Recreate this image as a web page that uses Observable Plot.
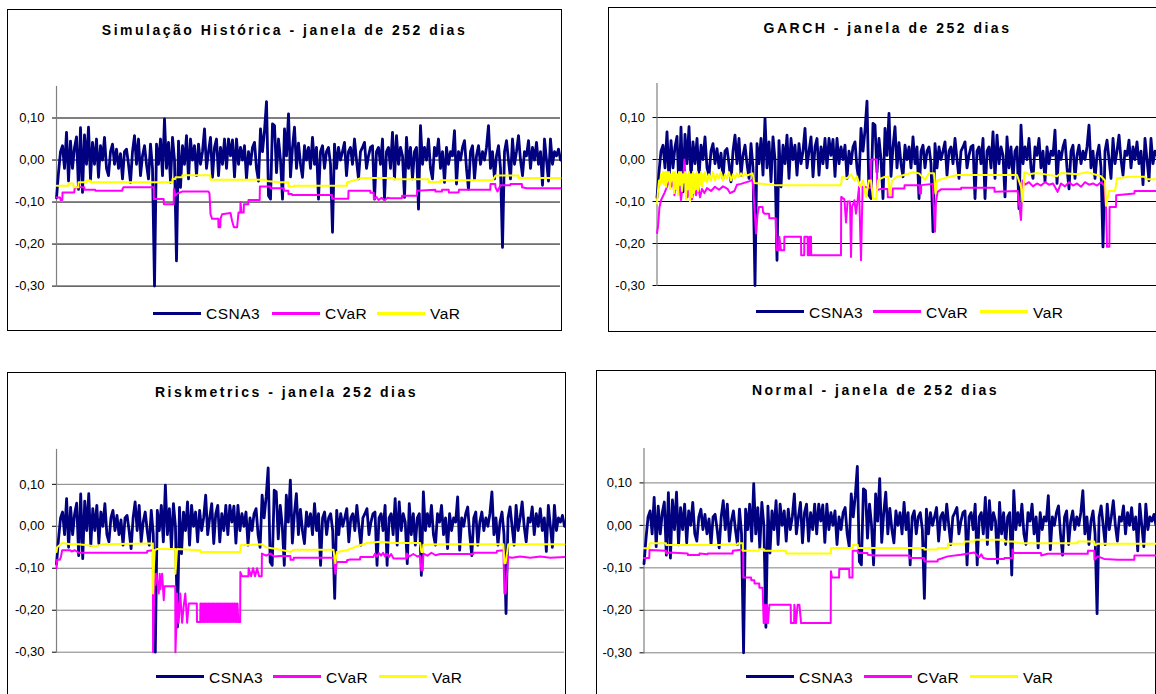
<!DOCTYPE html>
<html>
<head>
<meta charset="utf-8">
<script src="https://cdn.jsdelivr.net/npm/d3@7"></script>
<script src="https://cdn.jsdelivr.net/npm/@observablehq/plot@0.6"></script>
<style>
  html, body { margin: 0; padding: 0; background: #fff; }
  body { width: 1156px; height: 694px; overflow: hidden; position: relative; font-family: "Liberation Sans", Arial, sans-serif; }
  .box { position: absolute; border: 1.5px solid #000; box-sizing: border-box; }
  .title { position: absolute; font-weight: bold; font-size: 14px; line-height: 14px; letter-spacing: 2.5px; text-align: center; color: #000; white-space: nowrap; }
  .chart { position: absolute; }
  .lg-line { position: absolute; height: 2.5px; width: 48px; }
  .lg-text { position: absolute; font-size: 15.5px; line-height: 15.5px; letter-spacing: 0.5px; color: #000; white-space: nowrap; }
</style>
</head>
<body>
<script>
// ---------------- DATA ----------------
// daily returns of CSNA3 (sampled, read from the picture), same series in every panel
const csna3 = [
 -0.09, -0.03, 0.02, 0.034, -0.02, 0.066, -0.05, 0.045, -0.02, 0.03,
 0.055, -0.07, 0.077, -0.077, 0.06, -0.01, 0.078, -0.046, 0.042, -0.01,
 0.05, -0.041, 0.034, 0.0, 0.054, -0.02, -0.037, 0.02, 0.038, -0.01,
 0.026, -0.02, 0.015, -0.045, 0.02, 0.026, -0.01, -0.053, 0.02, 0.058,
 -0.01, 0.05, -0.037, 0.01, 0.034, -0.01, -0.045, 0.038, -0.02, -0.30,
 0.038, -0.01, 0.05, -0.037, 0.098, -0.02, 0.042, -0.053, 0.054, 0.0,
 -0.24, 0.045, -0.065, 0.034, -0.01, 0.058, -0.045, 0.05, 0.0, 0.034,
 -0.037, 0.038, -0.01, 0.02, 0.074, -0.02, 0.02, 0.054, -0.041, 0.03,
 0.05, -0.037, 0.03, -0.01, 0.05, -0.02, 0.05, 0.01, 0.048, -0.04,
 0.05, -0.01, 0.03, 0.0, 0.034, -0.045, 0.02, -0.01, 0.03, 0.042,
 -0.02, -0.05, 0.074, 0.02, 0.07, 0.139, -0.085, -0.093, 0.086, 0.082,
 -0.03, 0.05, 0.0, -0.093, 0.074, 0.01, 0.11, -0.04, 0.03, 0.078,
 -0.02, 0.04, -0.01, -0.041, 0.034, 0.0, 0.03, -0.02, 0.054, -0.01,
 0.03, -0.093, 0.02, 0.034, -0.02, 0.02, 0.03, -0.01, -0.172, 0.038,
 -0.02, 0.03, 0.0, 0.02, 0.042, -0.037, 0.02, 0.03, -0.01, 0.05,
 0.0, -0.045, 0.02, 0.03, 0.042, -0.02, 0.01, 0.03, 0.034, -0.093,
 0.02, 0.03, -0.01, 0.05, -0.093, 0.02, 0.03, -0.02, 0.066, -0.045,
 0.058, -0.01, 0.03, 0.01, -0.089, 0.054, -0.02, 0.03, -0.045, 0.02,
 0.03, -0.117, 0.082, -0.01, 0.03, 0.0, 0.05, -0.02, -0.045, 0.03,
 0.01, 0.05, -0.02, 0.02, -0.053, 0.03, -0.01, 0.02, 0.01, 0.07,
 -0.057, 0.02, 0.0, 0.03, 0.046, -0.02, -0.07, 0.02, 0.034, -0.045,
 0.01, 0.034, -0.01, 0.02, 0.0, 0.03, 0.082, -0.02, 0.02, -0.045,
 0.01, 0.034, -0.02, -0.208, 0.02, 0.046, 0.0, -0.045, 0.05, -0.01,
 0.02, 0.058, 0.0, -0.037, 0.02, 0.01, 0.046, -0.02, 0.03, 0.0,
 0.042, -0.01, 0.02, -0.06, 0.05, 0.0, -0.05, 0.05, -0.01, 0.02,
 0.01, 0.026, 0.0
];

// [observation, value] pairs
const hsCVaR = [[0,-0.089],[1.8,-0.089],[2,-0.095],[2.9,-0.095],[3,-0.077],[8.9,-0.077],[9,-0.069],[10,-0.065],[13.9,-0.065],[14,-0.071],[19.4,-0.071],[19.5,-0.073],[32.9,-0.073],[33,-0.069],[33.5,-0.065],[48.6,-0.065],[48.7,-0.093],[53.6,-0.093],[53.7,-0.105],[58.6,-0.105],[58.7,-0.069],[59.5,-0.085],[60.3,-0.08],[62.8,-0.075],[76,-0.075],[76.5,-0.08],[77,-0.129],[77.8,-0.14],[80.9,-0.14],[81,-0.16],[81.9,-0.16],[82,-0.14],[82.8,-0.129],[87,-0.126],[87.8,-0.145],[88.7,-0.16],[90.3,-0.16],[91,-0.125],[91.9,-0.125],[92,-0.10],[92.5,-0.125],[93.6,-0.125],[93.7,-0.105],[95.9,-0.105],[96,-0.095],[101.6,-0.095],[101.7,-0.063],[106.9,-0.063],[107,-0.067],[113.6,-0.067],[113.7,-0.073],[115.9,-0.073],[116,-0.081],[117.7,-0.081],[117.8,-0.083],[137.7,-0.083],[137.8,-0.092],[145.9,-0.092],[146,-0.073],[156.9,-0.073],[157,-0.078],[158.6,-0.078],[158.7,-0.093],[160,-0.088],[161,-0.095],[162.5,-0.09],[164,-0.096],[165.5,-0.09],[167,-0.091],[172.7,-0.091],[172.8,-0.085],[180.2,-0.085],[180.3,-0.073],[189.4,-0.071],[189.5,-0.075],[192.7,-0.075],[192.8,-0.071],[196.1,-0.071],[196.2,-0.077],[201.1,-0.077],[201.2,-0.071],[216.9,-0.071],[217,-0.057],[219.4,-0.057],[219.5,-0.065],[220.5,-0.075],[222,-0.06],[226.9,-0.06],[227,-0.057],[232.7,-0.057],[232.8,-0.065],[235,-0.067],[252,-0.067]];
const hsVaR = [[0,-0.061],[5.9,-0.061],[6,-0.056],[8.4,-0.056],[8.5,-0.065],[10.9,-0.065],[11,-0.053],[14.9,-0.053],[15,-0.049],[16.9,-0.049],[17,-0.053],[57.9,-0.053],[58,-0.045],[59.4,-0.045],[59.5,-0.041],[62.9,-0.041],[63,-0.036],[76.9,-0.036],[77,-0.047],[104.9,-0.047],[105,-0.05],[112,-0.053],[115.9,-0.053],[116,-0.063],[118.6,-0.063],[118.7,-0.061],[145.2,-0.061],[145.3,-0.053],[150,-0.047],[152,-0.043],[168.6,-0.043],[168.7,-0.046],[186,-0.046],[186.1,-0.052],[191.9,-0.052],[192,-0.048],[218,-0.048],[219.5,-0.037],[231,-0.037],[231.1,-0.043],[252,-0.043]];

const garchCVaR = [[0,-0.175],[0.5,-0.16],[1.2,-0.115],[2,-0.097],[3.7,-0.08],[5.3,-0.061],[6,-0.053],[7,-0.065],[8,-0.049],[8.7,-0.085],[9.5,-0.05],[10.3,-0.073],[11,-0.05],[12,-0.097],[13,-0.053],[13.7,0.0],[14.5,-0.065],[15.3,-0.09],[16.5,-0.06],[17.5,-0.095],[18.5,-0.07],[19.5,-0.085],[20.5,-0.062],[21.5,-0.09],[22.5,-0.07],[23.7,-0.08],[25,-0.068],[27,-0.075],[29,-0.065],[31,-0.072],[33,-0.064],[35.3,-0.07],[36.5,-0.08],[38.7,-0.075],[40,-0.06],[42,-0.058],[44,-0.055],[46,-0.052],[47.8,-0.048],[48.7,-0.113],[49.5,-0.176],[50.3,-0.13],[51,-0.113],[52.8,-0.113],[53,-0.125],[53.7,-0.129],[56,-0.129],[56.2,-0.14],[59.4,-0.14],[59.5,-0.176],[60,-0.216],[61,-0.216],[61.2,-0.184],[62,-0.216],[63.6,-0.216],[63.7,-0.184],[72,-0.184],[72.1,-0.228],[73.6,-0.228],[73.7,-0.184],[75.3,-0.184],[75.4,-0.228],[76.2,-0.228],[76.3,-0.184],[77,-0.184],[77.1,-0.228],[92,-0.228],[92.1,-0.089],[93.7,-0.095],[94.5,-0.15],[95.3,-0.1],[96.5,-0.1],[97,-0.232],[97.5,-0.113],[98.7,-0.097],[99.5,-0.129],[100.3,-0.097],[101,-0.065],[102,-0.24],[102.8,-0.065],[107,-0.068],[107.1,0.0],[110,0.0],[110.1,-0.073],[112,-0.07],[115.3,-0.07],[115.4,-0.09],[117.8,-0.09],[117.9,-0.069],[123.7,-0.069],[123.8,-0.061],[131.2,-0.061],[131.3,-0.081],[132,-0.081],[132.1,-0.061],[137.8,-0.058],[139,-0.172],[139.5,-0.1],[140.3,-0.077],[142,-0.071],[152,-0.071],[152.1,-0.067],[168.7,-0.067],[168.8,-0.077],[180.3,-0.075],[182,-0.144],[182.8,-0.05],[184,-0.06],[186,-0.054],[188,-0.064],[190,-0.057],[192,-0.062],[194,-0.054],[196,-0.06],[198,-0.057],[200.3,-0.077],[202,-0.057],[204,-0.064],[206,-0.054],[208,-0.062],[210,-0.057],[212,-0.065],[214,-0.054],[216,-0.06],[218,-0.057],[220,-0.062],[222,-0.054],[223.7,-0.062],[224.5,-0.113],[225,-0.208],[226.2,-0.208],[226.3,-0.113],[229.5,-0.113],[229.6,-0.085],[238.7,-0.081],[238.8,-0.075],[252,-0.075]];
const garchVaR = [[0,-0.105],[0.5,-0.075],[1,-0.05],[1.5,-0.06],[2,-0.035],[2.5,-0.055],[3,-0.03],[3.5,-0.06],[4,-0.03],[4.5,-0.065],[5,-0.03],[5.5,-0.05],[6,-0.03],[6.5,-0.07],[7,-0.035],[7.5,-0.05],[8,-0.03],[8.5,-0.08],[9,-0.03],[9.5,-0.07],[10,-0.035],[10.5,-0.085],[11,-0.03],[11.5,-0.06],[12,-0.03],[12.5,-0.075],[13,-0.035],[13.5,-0.055],[14,-0.03],[14.5,-0.095],[15,-0.035],[15.5,-0.07],[16,-0.03],[16.5,-0.1],[17,-0.035],[17.5,-0.09],[18,-0.03],[18.5,-0.08],[19,-0.035],[19.5,-0.07],[20,-0.03],[20.5,-0.075],[21,-0.035],[21.5,-0.06],[22,-0.03],[22.5,-0.065],[23,-0.035],[23.5,-0.05],[24,-0.03],[25,-0.055],[26,-0.035],[27,-0.05],[28,-0.03],[29,-0.05],[30,-0.035],[31,-0.045],[32,-0.03],[33,-0.05],[34,-0.035],[35,-0.045],[36,-0.03],[37,-0.05],[38,-0.035],[39,-0.045],[40,-0.033],[41,-0.042],[42,-0.033],[43,-0.04],[44,-0.033],[45,-0.038],[47.8,-0.033],[48.7,-0.056],[59,-0.061],[92,-0.061],[92.5,-0.041],[95,-0.045],[97,-0.035],[98.7,-0.05],[100,-0.04],[101.5,-0.065],[103,-0.05],[104.5,-0.09],[106,-0.05],[107,-0.05],[108,-0.093],[109.5,-0.095],[110.5,-0.05],[112,-0.045],[114,-0.041],[115.5,-0.041],[116.5,-0.085],[117.5,-0.05],[120,-0.041],[125,-0.035],[128,-0.03],[131,-0.033],[134,-0.048],[136,-0.033],[138.5,-0.033],[139.2,-0.081],[140,-0.05],[145,-0.043],[150,-0.037],[180,-0.037],[182,-0.065],[182.8,-0.1],[183.7,-0.03],[186,-0.035],[190,-0.032],[195,-0.036],[200,-0.04],[202,-0.032],[210,-0.035],[215,-0.03],[222,-0.04],[224,-0.05],[224.5,-0.11],[226,-0.075],[229,-0.075],[230,-0.045],[236,-0.041],[244,-0.041],[244.5,-0.047],[252,-0.047]];

const rmCVaR = [[0,-0.1],[0.3,-0.08],[1.6,-0.08],[2.2,-0.073],[2.8,-0.057],[6.9,-0.057],[7.5,-0.06],[9,-0.057],[11,-0.063],[44.9,-0.063],[45,-0.059],[47.8,-0.057],[47.9,-0.30],[48.6,-0.113],[49,-0.14],[49.5,-0.113],[50,-0.13],[50.7,-0.16],[51.2,-0.113],[51.5,-0.15],[52.4,-0.113],[53.2,-0.176],[53.6,-0.143],[58.9,-0.143],[59,-0.30],[59.5,-0.23],[59.8,-0.16],[60.6,-0.23],[61.4,-0.16],[62.3,-0.23],[63.1,-0.19],[63.9,-0.16],[64.8,-0.23],[65.6,-0.184],[69.6,-0.184],[69.7,-0.228],[71.3,-0.228],[71.4,-0.184],[71.8,-0.228],[72.2,-0.184],[72.6,-0.228],[73,-0.184],[73.4,-0.228],[73.8,-0.184],[74.2,-0.228],[74.6,-0.184],[75,-0.228],[75.4,-0.184],[75.8,-0.228],[76.2,-0.184],[76.6,-0.228],[77,-0.184],[77.4,-0.228],[77.8,-0.184],[78.2,-0.228],[78.6,-0.184],[79,-0.228],[79.4,-0.184],[79.8,-0.228],[80.2,-0.184],[80.6,-0.228],[81,-0.184],[81.4,-0.228],[81.8,-0.184],[82.2,-0.228],[82.6,-0.184],[83,-0.228],[83.4,-0.184],[83.8,-0.228],[84.2,-0.184],[84.6,-0.228],[85,-0.184],[85.4,-0.228],[85.8,-0.184],[86.2,-0.228],[86.6,-0.184],[87,-0.228],[87.4,-0.184],[87.8,-0.228],[88.2,-0.184],[88.6,-0.228],[89,-0.184],[89.4,-0.228],[89.8,-0.184],[90.2,-0.228],[91.1,-0.228],[91.2,-0.109],[92,-0.119],[95.2,-0.119],[95.3,-0.1],[96.5,-0.119],[97.5,-0.1],[98.5,-0.119],[99.5,-0.1],[100.5,-0.119],[101.8,-0.119],[101.9,-0.065],[104,-0.07],[106,-0.065],[108,-0.072],[111,-0.071],[116,-0.071],[116.1,-0.08],[117.6,-0.08],[117.7,-0.075],[137.4,-0.075],[138.3,-0.113],[139.1,-0.085],[144,-0.085],[144.1,-0.081],[145.7,-0.079],[150.6,-0.079],[150.7,-0.073],[157.2,-0.073],[158,-0.065],[159,-0.072],[160,-0.064],[161,-0.07],[162,-0.063],[163,-0.072],[164,-0.066],[165,-0.073],[166,-0.066],[167.2,-0.077],[173.8,-0.077],[173.9,-0.065],[175,-0.072],[177,-0.066],[179,-0.072],[180.4,-0.07],[181,-0.105],[181.7,-0.105],[182,-0.065],[184,-0.07],[186,-0.063],[188,-0.069],[190.3,-0.066],[206.8,-0.066],[206.9,-0.063],[218.4,-0.063],[218.5,-0.059],[221.7,-0.057],[222.2,-0.16],[222.8,-0.16],[224.1,-0.073],[226,-0.075],[230,-0.072],[235,-0.075],[240,-0.072],[245,-0.075],[252,-0.073]];
const rmVaR = [[0,-0.061],[0.3,-0.05],[2.8,-0.04],[6.9,-0.043],[11,-0.043],[15.3,-0.045],[19.4,-0.048],[22.5,-0.043],[44.9,-0.041],[47.8,-0.041],[47.9,-0.16],[48.6,-0.057],[50,-0.054],[58.9,-0.054],[59,-0.113],[59.8,-0.054],[71.4,-0.057],[71.5,-0.061],[91.2,-0.061],[91.3,-0.045],[102,-0.043],[104,-0.05],[111,-0.056],[116,-0.061],[117.6,-0.056],[137.4,-0.056],[138.3,-0.088],[139.1,-0.061],[144,-0.057],[150.6,-0.045],[154,-0.04],[160.6,-0.037],[167.2,-0.04],[180.4,-0.04],[181,-0.061],[181.7,-0.061],[182,-0.044],[190.3,-0.043],[221.7,-0.043],[222.2,-0.088],[222.8,-0.088],[224.1,-0.043],[252,-0.043]];

const nmCVaR = [[0,-0.077],[2.6,-0.077],[2.7,-0.058],[10.8,-0.06],[10.9,-0.066],[12.5,-0.064],[21.5,-0.066],[21.6,-0.07],[27.2,-0.07],[27.3,-0.066],[31.3,-0.068],[31.4,-0.066],[43.6,-0.066],[43.7,-0.06],[46.9,-0.058],[48.8,-0.058],[48.9,-0.123],[52.7,-0.123],[52.8,-0.129],[54.3,-0.129],[54.4,-0.137],[56.7,-0.137],[56.8,-0.147],[58.4,-0.147],[58.9,-0.23],[59.5,-0.187],[60,-0.23],[60.5,-0.187],[61,-0.23],[61.7,-0.187],[72.2,-0.187],[72.3,-0.23],[73.9,-0.23],[74,-0.187],[74.8,-0.23],[75.6,-0.187],[76.5,-0.187],[77.3,-0.23],[91.9,-0.23],[92,-0.108],[92.5,-0.123],[96,-0.123],[96.1,-0.103],[101,-0.103],[101.1,-0.123],[102.6,-0.123],[102.7,-0.06],[105.2,-0.06],[105.3,-0.065],[110,-0.065],[110.1,-0.069],[113.3,-0.071],[130.6,-0.071],[130.7,-0.077],[137.9,-0.077],[138,-0.085],[144.5,-0.085],[144.6,-0.081],[149.5,-0.073],[156,-0.069],[162.6,-0.064],[165,-0.075],[166,-0.068],[167,-0.077],[169.1,-0.079],[177.3,-0.079],[177.4,-0.077],[181.3,-0.077],[181.4,-0.057],[182,-0.065],[195.4,-0.065],[195.5,-0.071],[198.7,-0.067],[218.4,-0.067],[218.5,-0.06],[221.6,-0.06],[221.7,-0.081],[223.3,-0.073],[226.5,-0.079],[233.1,-0.081],[241.3,-0.081],[241.4,-0.071],[252,-0.071]];
const nmVaR = [[0,-0.054],[2.6,-0.054],[2.7,-0.042],[10.8,-0.042],[10.9,-0.046],[37.9,-0.046],[38,-0.045],[46.1,-0.045],[46.2,-0.042],[48.6,-0.042],[48.7,-0.06],[56.7,-0.06],[56.8,-0.056],[59,-0.056],[59.1,-0.06],[69.8,-0.06],[69.9,-0.066],[92,-0.066],[92.1,-0.053],[102.7,-0.053],[102.8,-0.046],[105.2,-0.046],[105.3,-0.053],[137.9,-0.053],[138,-0.057],[144.5,-0.057],[144.6,-0.053],[149.5,-0.053],[149.6,-0.043],[157.6,-0.043],[157.7,-0.038],[162.6,-0.038],[162.7,-0.034],[177.3,-0.034],[177.4,-0.038],[182.2,-0.038],[182.3,-0.04],[185.5,-0.042],[213.4,-0.042],[213.5,-0.038],[221.6,-0.038],[222,-0.047],[223.3,-0.043],[252,-0.043]];

const yTicks = [0.10, 0.00, -0.10, -0.20, -0.30];
const titles = ["Simulação Histórica - janela de 252 dias", "GARCH - janela de 252 dias", "Riskmetrics - janela 252 dias", "Normal - janela de 252 dias"];
const seriesNames = ["CSNA3", "CVaR", "VaR"];
const seriesColors = ["#000080", "#FF00FF", "#FFFF00"];
const cvarSets = [hsCVaR, garchCVaR, rmCVaR, nmCVaR];
const varSets = [hsVaR, garchVaR, rmVaR, nmVaR];

// ---------------- LAYOUT ----------------
const layout = [
  {box:[7,9,555,322], l:56, r:560, top:85.7, bottom:285.3, ymax:0.175, grid:"#000", titleBase:35, legY:313.3, legX:[153,272,377]},
  {box:[607.5,7,560,325], l:656, r:1160, top:83.3, bottom:285.3, ymax:0.181, grid:"#000", titleBase:33.3, legY:311.7, legX:[756,873,980]},
  {box:[7,371.5,559,330], l:56, r:564, top:449.3, bottom:652, ymax:0.183, grid:"#808080", titleBase:397.3, legY:676.7, legX:[156,273,379]},
  {box:[595.5,370,560,330], l:643, r:1155, top:447.7, bottom:652, ymax:0.181, grid:"#808080", titleBase:395, legY:676.7, legX:[746,864,970]}
];

const fmt = d => (d < -1e-9 ? "-" : "") + Math.abs(d).toFixed(2).replace(".", ",");

function el(cls, css, text) {
  const e = document.createElement("div");
  e.className = cls;
  Object.assign(e.style, css);
  if (text != null) e.textContent = text;
  document.body.appendChild(e);
  return e;
}

layout.forEach((L, k) => {
  const [bx, by, bw, bh] = L.box;
  el("box", {left: bx + "px", top: by + "px", width: bw + "px", height: bh + "px"});
  el("title", {left: bx + "px", width: bw + "px", top: (L.titleBase - 11.9) + "px"}, titles[k]);

  const svgLeft = bx + 2;
  const mTop = 20, mBottom = 8, mRight = 4;
  const svgTop = L.top - mTop;
  const width = L.r + mRight - svgLeft;
  const height = (L.bottom - L.top) + mTop + mBottom;
  const chart = Plot.plot({
    width, height,
    marginLeft: L.l - svgLeft, marginRight: mRight, marginTop: mTop, marginBottom: mBottom,
    x: {domain: [0, csna3.length - 1], axis: null},
    y: {domain: [-0.30, L.ymax], axis: null},
    style: {fontFamily: '"Liberation Sans", Arial, sans-serif', fontSize: "13px", color: "#000", background: "transparent", overflow: "visible"},
    marks: [
      Plot.ruleY(yTicks, {stroke: L.grid, strokeWidth: 1}),
      Plot.frame({anchor: "left", stroke: "#808080", strokeWidth: 1.2}),
      Plot.axisY({ticks: yTicks, tickFormat: fmt, tickSize: 4, tickPadding: 8, stroke: "#000", fill: "#000"}),
      Plot.line(csna3, {x: (d, i) => i, y: d => d, stroke: seriesColors[0], strokeWidth: 2.8}),
      Plot.line(cvarSets[k], {x: d => d[0], y: d => d[1], stroke: seriesColors[1], strokeWidth: 2}),
      Plot.line(varSets[k], {x: d => d[0], y: d => d[1], stroke: seriesColors[2], strokeWidth: 2})
    ]
  });
  chart.classList.add("chart");
  chart.style.left = svgLeft + "px";
  chart.style.top = svgTop + "px";
  chart.style.position = "absolute";
  document.body.appendChild(chart);

  seriesNames.forEach((name, j) => {
    const x0 = L.legX[j];
    el("lg-line", {left: x0 + "px", top: (L.legY - 1.25) + "px", background: seriesColors[j]});
    el("lg-text", {left: (x0 + 53) + "px", top: (L.legY + 6 - 13.1) + "px"}, name);
  });
});
</script>
</body>
</html>
